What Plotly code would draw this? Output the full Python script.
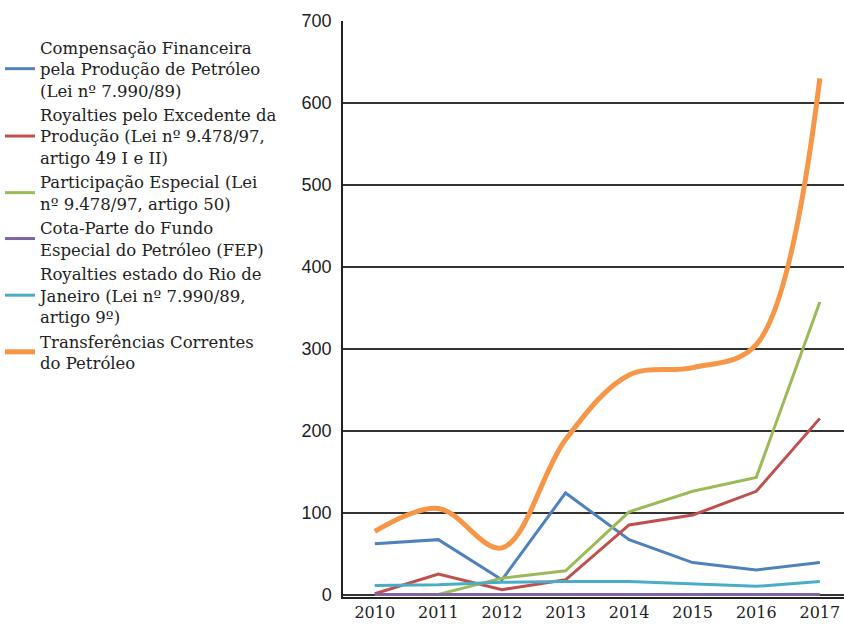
import plotly.graph_objects as go

years = ["2010", "2011", "2012", "2013", "2014", "2015", "2016", "2017"]

compensacao = [62, 67, 18, 124, 67, 39, 30, 39]
royalties_excedente = [1, 25, 6, 18, 85, 97, 126, 215]
participacao = [0, 0, 20, 29, 101, 126, 143, 357]
cota_parte_fep = [0, 0, 0, 0, 0, 0, 0, 0]
royalties_rj = [11, 12, 15, 16, 16, 13, 10, 16]
transferencias = [77, 105, 57, 189, 268, 277, 305, 630]

names = [
    "Compensação Financeira<br>pela Produção de Petróleo<br>(Lei nº 7.990/89)",
    "Royalties pelo Excedente da<br>Produção (Lei nº 9.478/97,<br>artigo 49 I e II)",
    "Participação Especial (Lei<br>nº 9.478/97, artigo 50)",
    "Cota-Parte do Fundo<br>Especial do Petróleo (FEP)",
    "Royalties estado do Rio de<br>Janeiro (Lei nº 7.990/89,<br>artigo 9º)",
    "Transferências Correntes<br>do Petróleo",
]
colors = ["#4F81BD", "#C0504D", "#9BBB59", "#8064A2", "#4BACC6", "#F79646"]
series = [compensacao, royalties_excedente, participacao, cota_parte_fep, royalties_rj, transferencias]

fig = go.Figure()
for i, (nm, col, vals) in enumerate(zip(names, colors, series)):
    is_orange = i == 5
    fig.add_trace(go.Scatter(
        x=list(range(len(years))), y=vals, name=nm, mode="lines",
        line=dict(color=col, width=5 if is_orange else 3,
                  shape="spline" if is_orange else "linear",
                  smoothing=1.0),
    ))

fig.update_layout(
    width=844, height=625,
    margin=dict(l=343, r=0, t=21, b=28),
    paper_bgcolor="white", plot_bgcolor="white",
    showlegend=True,
    legend=dict(
        xref="container", yref="container",
        x=0.0, y=1 - 30 / 625, xanchor="left", yanchor="top",
        font=dict(family="DejaVu Serif", size=16.5, color="#222"),
        bgcolor="rgba(0,0,0,0)", tracegroupgap=0, itemwidth=30,
        maxheight=1.0,
    ),
    xaxis=dict(
        tickmode="array", tickvals=list(range(len(years))), ticktext=years,
        range=[-0.5, 7.38], showgrid=False, zeroline=False, automargin=False,
        showline=True, linecolor="#222", linewidth=1.5,
        ticks="", tickfont=dict(family="DejaVu Serif", size=16, color="#222"),
    ),
    yaxis=dict(
        range=[-3, 700], tickvals=[0, 100, 200, 300, 400, 500, 600, 700],
        showgrid=True, gridcolor="#333", gridwidth=1.5, zeroline=False,
        showline=True, linecolor="#222", linewidth=1.5, ticks="", automargin=False,
        ticklabelstandoff=6,
        tickfont=dict(family="Liberation Sans", size=18, color="#222"),
    ),
)

fig.write_html("out.html", config={"displayModeBar": False},
               post_script="document.body.style.margin='0';")
